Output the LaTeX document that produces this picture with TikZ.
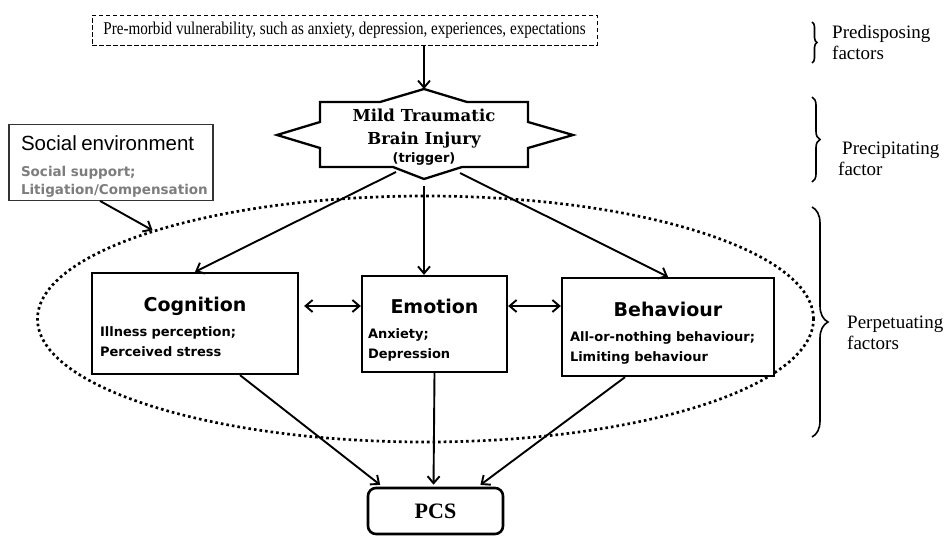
\documentclass[tikz,border=0pt]{standalone}
\usepackage{fontspec}
\setmainfont{Liberation Serif}
\newfontfamily\narrowserif[FakeStretch=0.84]{Liberation Serif}
\newfontfamily\labelsans{DejaVu Sans}
\newfontfamily\labelserif{DejaVu Serif}
\newfontfamily\envsans{Liberation Sans}
\usetikzlibrary{arrows.meta,calc,shapes.geometric,decorations.pathreplacing}
\definecolor{notegray}{RGB}{125,125,125}
\newcommand\factortitle[2][21pt]{\makebox[\linewidth]{\rule{0pt}{#1}\fontsize{19}{20}\selectfont #2}}

\begin{document}
\begin{tikzpicture}[x=1pt,y=-1pt,
  flow/.style={line width=1.9pt,-{Straight Barb[length=7pt,width=12pt]}},
  twoway/.style={line width=1.9pt,{Straight Barb[length=7pt,width=12pt]}-{Straight Barb[length=7pt,width=12pt]}},
  factorbox/.style={draw,fill=white,line width=2.3pt,inner ysep=0pt,align=left,
    font=\labelsans\bfseries\fontsize{13}{20}\selectfont},
  sidebrace/.style={decorate,decoration={brace,amplitude=#1},line width=1.6pt},
  sidelabel/.style={anchor=west,inner sep=0pt,align=left,font=\fontsize{19}{21}\selectfont}]
  \useasboundingbox (0,0) rectangle (945,538);

  % dotted ellipse round the perpetuating factors
  \node[ellipse,draw,line width=2.7pt,dash pattern=on 2.6pt off 3pt,
    minimum width=776pt,minimum height=246pt,inner sep=0pt] (perp) at (425.5,319) {};

  % top: pre-morbid box
  \node[draw,line width=1pt,dash pattern=on 4.5pt off 2.5pt,minimum width=505pt,
    minimum height=30pt,inner sep=0pt,font=\narrowserif\fontsize{18}{20}\selectfont] (pre) at (344.5,30)
    {Pre-morbid vulnerability, such as anxiety, depression, experiences, expectations};

  % trigger shape
  \coordinate (mtbitop) at (424,89);
  \draw[line width=2.3pt,line join=miter] (mtbitop) -- (467,102) -- (528,102) -- (528,122)
    -- (573,135) -- (528,148) -- (528,167) -- (462,167) -- (424,179) -- (393,167)
    -- (320,167) -- (320,148) -- (277,135) -- (320,122) -- (320,102) -- (380,102) -- cycle;
  \node[align=center,font=\labelserif\bfseries\fontsize{16.5}{23}\selectfont] (mtbi) at (424,137)
    {Mild Traumatic\\Brain Injury\\[-5pt]{\labelsans\fontsize{13}{14}\selectfont(trigger)}};
  \draw[flow] (pre.south -| mtbitop) -- (mtbitop);

  % social environment
  \node[draw=black!80,fill=white,line width=1.3pt,inner xsep=12pt,text width=180pt,
    minimum height=71pt,align=left,font=\fontsize{13.5}{17.5}\selectfont] (env) at (111,162.5)
    {\rule{0pt}{22pt}{\envsans\fontsize{20.5}{21}\selectfont Social environment}\\[9pt]
     {\labelsans\bfseries\color{notegray}Social support;\\Litigation/Compensation}};

  % the three factors
  \node[factorbox,inner xsep=8pt,text width=190pt,minimum height=101pt] (cog) at (195,323.5)
    {\factortitle{Cognition}\\[5pt]Illness perception;\\Perceived stress};
  \node[factorbox,inner xsep=6pt,text width=133pt,minimum height=96pt] (emo) at (434.5,324)
    {\factortitle[27pt]{Emotion}\\[5pt]Anxiety;\\Depression};
  \node[factorbox,inner xsep=8pt,text width=196pt,minimum height=98pt] (beh) at (668,327)
    {\factortitle[26pt]{Behaviour}\\[5pt]All-or-nothing behaviour;\\Limiting behaviour};

  % outcome
  \node[draw,rounded corners=8pt,line width=2.6pt,minimum width=135pt,minimum height=46pt,
    font=\bfseries\fontsize{22}{24}\selectfont] (pcs) at (435.5,511) {PCS};

  % connectors
  \coordinate (cogfrom) at (396,172);
  \coordinate (emofrom) at (424,186);
  \coordinate (behfrom) at (460,173);
  \draw[flow] (cogfrom) -- (cog.north);
  \draw[flow] (emofrom) -- (emofrom |- emo.north);
  \draw[flow] (behfrom) -- (beh.north);
  \draw[flow] ([xshift=-11pt]env.south) -- (perp.162);
  \path ([yshift=17.5pt]cog.east) coordinate (midrow);
  \draw[twoway,shorten <=5pt] (midrow) -- (midrow -| emo.west);
  \draw[twoway] (midrow -| emo.east) -- (midrow -| beh.west);
  \draw[flow,shorten >=3pt] ([xshift=45pt]cog.south) -- ([xshift=-53pt]pcs.north);
  \draw[flow,shorten >=2pt] (emo.south) -- ([xshift=-2pt]pcs.north);
  \draw[flow,shorten >=3pt] ([xshift=-43pt]beh.south) -- ([xshift=42.5pt]pcs.north);

  % braces and factor labels
  \draw[sidebrace=5pt] (812,22) -- (812,63);
  \draw[sidebrace=8pt] (812,97) -- (812,182);
  \draw[sidebrace=16pt] (812,207) -- (812,437);
  \node[sidelabel] (predlbl) at (832,42.5) {Predisposing\\factors};
  \node[sidelabel] (preclbl) at (838,159) {\hspace*{4pt}Precipitating\\factor};
  \node[sidelabel] (perplbl) at (847,332.5) {Perpetuating\\factors};
\end{tikzpicture}
\end{document}
